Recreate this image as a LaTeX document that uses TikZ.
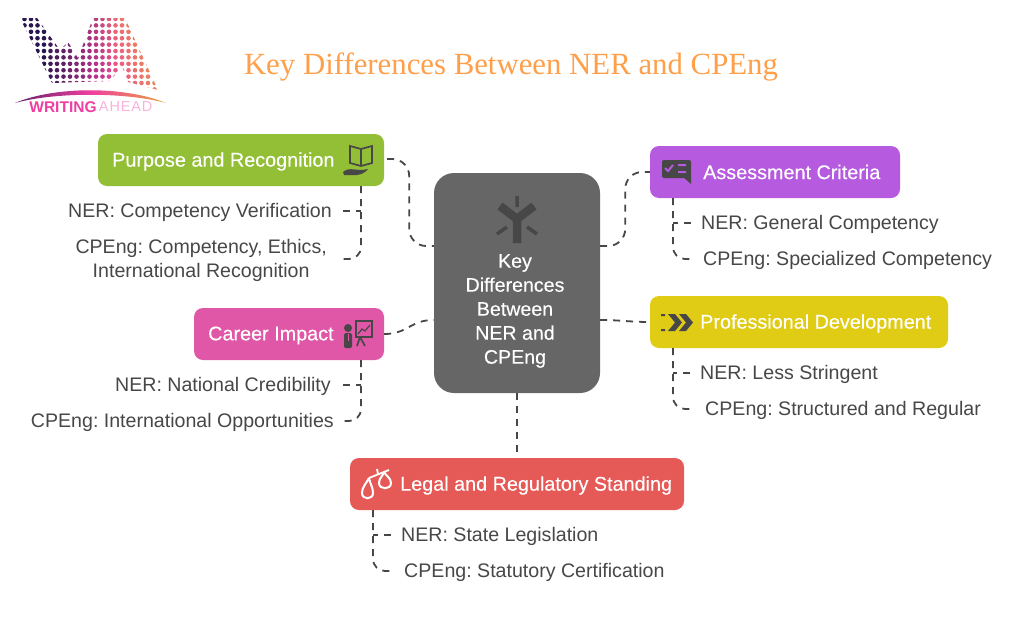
\documentclass[tikz,border=0pt]{standalone}
\usepackage{fontspec}
\usetikzlibrary{positioning}
\setmainfont{Liberation Sans}
\newfontfamily\titlefont{Liberation Serif}
\newfontfamily\boxfont[FakeBold=0.2]{Liberation Sans}
\frenchspacing
\definecolor{barkgray}{HTML}{666666}
\definecolor{inkgray}{HTML}{474747}
\definecolor{leafgreen}{HTML}{93BF36}
\definecolor{violetbox}{HTML}{B65AE0}
\definecolor{pinkbox}{HTML}{DF57A6}
\definecolor{yellowbox}{HTML}{E0CC14}
\definecolor{redbox}{HTML}{E55A57}
\definecolor{titleorange}{HTML}{FF9F4A}
\definecolor{logopink}{HTML}{EE3FA0}
\definecolor{logoindigo}{HTML}{2A1650}
\definecolor{logoamber}{HTML}{E8A33C}
\tikzset{
  topicbox/.style={rounded corners=9pt,minimum height=52pt,inner sep=0pt},
  topictext/.style={inner sep=0pt,text=white,anchor=west,yshift=-1.5pt,font=\boxfont\fontsize{19.8}{20}\selectfont},
  itemtext/.style={text=inkgray,inner sep=0pt,align=center,yshift=-1.5pt,font=\fontsize{19.6}{24}\selectfont},
  link/.style={draw=inkgray,line width=1.8pt,dash pattern=on 7pt off 6pt,rounded corners=12pt},
  icon/.style={draw=inkgray,line width=1.7pt},
}
\begin{document}
\begin{tikzpicture}[x=1pt,y=-1pt]
  \useasboundingbox (0,0) rectangle (1022,632);
  % logo
  \begin{scope}
    \clip (20,18) -- (37,18) -- (60,50) -- (68,42) -- (78,58) -- (93,18) -- (125,18) -- (158,90) -- (128,82) -- (122,66) -- (110,81) -- (52,83) -- cycle;
    \foreach \i in {0,...,22} {
      \foreach \j in {0,...,11} {
        \pgfmathsetmacro{\mixa}{max(0,min(100,(\i-4)*9))}
        \pgfmathsetmacro{\mixb}{max(0,min(100,(\i-10)*9-\j*3))}
        \fill[logoamber!\mixb!logopink!\mixa!logoindigo] ({18+\i*6.5},{19+\j*6.4}) circle (2.3pt);
      }
    }
  \end{scope}
  \node[inner sep=0pt,text=logopink,font=\bfseries\fontsize{15.5}{15}\selectfont] (logoword) at (63,107) {WRITING};
  \node[inner sep=0pt,text=logopink!40,right=2pt of logoword,font=\fontsize{14.5}{15}\selectfont\addfontfeatures{LetterSpace=6}] (logoahead) {AHEAD};
  \shade[left color=logoindigo!70!logopink,right color=logoamber,middle color=logopink] (15,103) .. controls (55,86) and (125,86) .. (166,103) .. controls (125,92) and (55,92) .. (15,103);
  \node[text=titleorange,inner sep=0pt] (title) at (511,67) {\titlefont\fontsize{30.8}{36}\selectfont Key Differences Between NER and CPEng};
  % centre
  \node[fill=barkgray,rounded corners=20pt,minimum width=166pt,minimum height=220pt] (hub) at (517,283) {};
  \node[text=white,align=center,inner sep=0pt,font=\boxfont\fontsize{19.6}{24}\selectfont] (hubtext) at (515,311) {Key\\Differences\\Between\\NER and\\CPEng};
  \draw[inkgray,line width=8.5pt] (517,243) -- (517,218) (500,206) -- (517,219) -- (534,206);
  \draw[inkgray,line width=3.5pt] (517,196) -- (517,207) (497,234) -- (507,227) (537,234) -- (527,227);
  % topics
  \node[topicbox,fill=leafgreen,minimum width=286pt] (purpose) at (241,160) {};
  \node[topictext] (purposetext) at (112,160) {Purpose and Recognition};
  \node[topicbox,fill=violetbox,minimum width=250pt] (assess) at (775,172) {};
  \node[topictext] (assesstext) at (703,170.5) {Assessment Criteria};
  \node[topicbox,fill=pinkbox,minimum width=190pt] (career) at (289,334) {};
  \node[topictext] (careertext) at (208,334) {Career Impact};
  \node[topicbox,fill=yellowbox,minimum width=298pt] (profdev) at (799,322) {};
  \node[topictext] (profdevtext) at (700,322) {Professional Development};
  \node[topicbox,fill=redbox,minimum width=334pt] (legal) at (517,484) {};
  \node[topictext] (legaltext) at (400,484) {Legal and Regulatory Standing};
  % items
  \node[itemtext,anchor=east] (purposea) at (332,211) {NER: Competency Verification};
  \node[itemtext,anchor=east] (purposeb) at (327,259) {CPEng: Competency, Ethics,\\International Recognition};
  \node[itemtext,anchor=west] (assessa) at (701,223) {NER: General Competency};
  \node[itemtext,anchor=west] (assessb) at (703,259) {CPEng: Specialized Competency};
  \node[itemtext,anchor=east] (careera) at (331,385) {NER: National Credibility};
  \node[itemtext,anchor=east] (careerb) at (334,421) {CPEng: International Opportunities};
  \node[itemtext,anchor=west] (profdeva) at (700,373) {NER: Less Stringent};
  \node[itemtext,anchor=west] (profdevb) at (705,409) {CPEng: Structured and Regular};
  \node[itemtext,anchor=west] (legala) at (401,535) {NER: State Legislation};
  \node[itemtext,anchor=west] (legalb) at (404,571) {CPEng: Statutory Certification};
  % links to the centre
  \draw[link,rounded corners=17pt] (purpose.east) ++(3,-1) -- ++(22,0) -- ++(0,87) -- (hub.west |- 0,246);
  \draw[link,rounded corners=17pt] (hub.east |- 0,246) -- ++(25,0) -- ++(0,-74) -- (assess.west);
  \draw[link] (career.east) .. controls (408,334) and (410,320) .. (hub.west |- 0,320);
  \draw[link] (hub.east |- 0,320) .. controls (620,320) and (630,322) .. (profdev.west);
  \draw[link] (hub.south) -- (legal.north);
  % links to the items
  \coordinate (purposefork) at (361,186);
  \coordinate (purposeaend) at (343,211);
  \coordinate (purposebend) at (342,259);
  \draw[link] (purposeaend) -- (purposeaend -| purposefork);
  \draw[link] (purposefork) -- (purposefork |- purposebend) -- (purposebend);
  \coordinate (assessfork) at (673,198);
  \coordinate (assessaend) at (691,223);
  \coordinate (assessbend) at (692,259);
  \draw[link] (assessaend) -- (assessaend -| assessfork);
  \draw[link] (assessfork) -- (assessfork |- assessbend) -- (assessbend);
  \coordinate (careerfork) at (361,360);
  \coordinate (careeraend) at (343,385);
  \coordinate (careerbend) at (342,421);
  \draw[link] (careeraend) -- (careeraend -| careerfork);
  \draw[link] (careerfork) -- (careerfork |- careerbend) -- (careerbend);
  \coordinate (profdevfork) at (673,348);
  \coordinate (profdevaend) at (690,373);
  \coordinate (profdevbend) at (692,409);
  \draw[link] (profdevaend) -- (profdevaend -| profdevfork);
  \draw[link] (profdevfork) -- (profdevfork |- profdevbend) -- (profdevbend);
  \coordinate (legalfork) at (373,510);
  \coordinate (legalaend) at (391,535);
  \coordinate (legalbend) at (392,571);
  \draw[link] (legalaend) -- (legalaend -| legalfork);
  \draw[link] (legalfork) -- (legalfork |- legalbend) -- (legalbend);
  % icons
  \draw[icon] (350,146) -- (361,149) -- (372,146) -- (372,163) -- (361,166) -- (350,163) -- cycle (361,149) -- (361,166);
  \fill[inkgray] (343,172) .. controls (350,166) and (356,172) .. (368,169) .. controls (362,177) and (352,175) .. (344,175) -- cycle;
  \fill[inkgray,rounded corners=2pt] (662,160) rectangle (691,178);
  \fill[inkgray] (682,176) -- (691,176) -- (691,184) -- cycle;
  \draw[violetbox,line width=2pt] (665,168) -- (668,171) -- (673,165) (678,165) -- (686,165) (678,172) -- (686,172);
  \draw[icon] (356,321) rectangle (372,337) (360,337) -- (357,346) (360,337) -- (365,346);
  \fill[inkgray] (348,328) circle (4pt);
  \fill[inkgray,rounded corners=1.5pt] (344,333) rectangle (352,348);
  \draw[pinkbox,line width=1pt] (348,334) -- (348,341);
  \draw[icon,line width=1.2pt] (358,334) -- (362,329) -- (365,331) -- (370,325);
  \foreach \k in {0,1} {
    \fill[inkgray] ({668+\k*11},314) -- ({675+\k*11},314) -- ({682+\k*11},322.5) -- ({675+\k*11},331) -- ({668+\k*11},331) -- ({675+\k*11},322.5) -- cycle;
  }
  \fill[inkgray] (661,314) rectangle (665,316) (661,329) rectangle (665,331);
  \draw[white,line width=1.8pt] (369,478) -- (389,470) (378,474) -- (377,469);
  \draw[white,line width=2pt] (369,478) .. controls (366,484) and (362,487) .. (362,493) .. controls (362,500) and (373,500) .. (373,493) .. controls (373,487) and (370,484) .. (369,478);
  \draw[white,line width=2pt] (384,472) .. controls (383,476) and (379,478) .. (379,483) .. controls (379,490) and (391,490) .. (391,483) .. controls (391,478) and (386,476) .. (384,472);
\end{tikzpicture}
\end{document}
